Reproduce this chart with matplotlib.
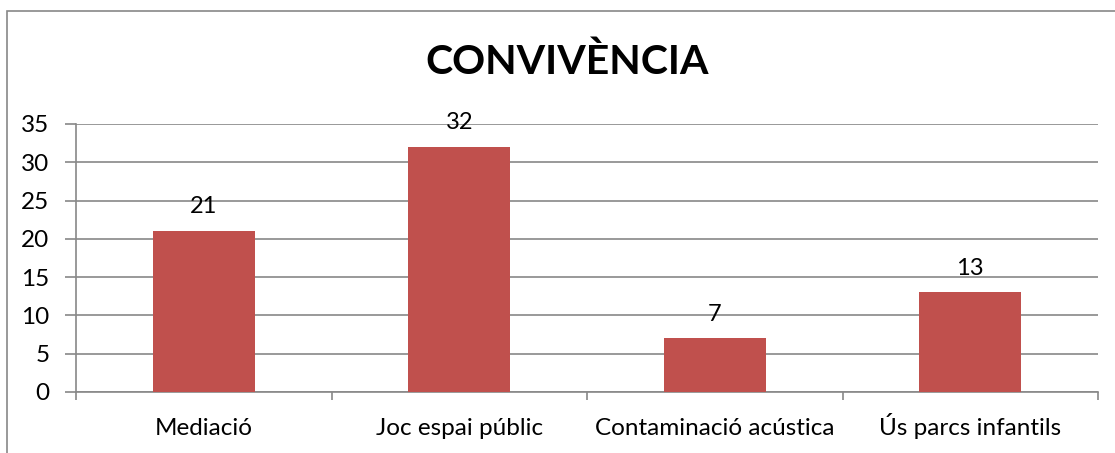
import matplotlib
matplotlib.use("Agg")
import matplotlib.pyplot as plt
from matplotlib.patches import Rectangle
import numpy as np

categories = ["Mediació", "Joc espai públic", "Contaminació acústica", "Ús parcs infantils"]
values = [21, 32, 7, 13]
yticks = [0, 5, 10, 15, 20, 25, 30, 35]
title = "CONVIVÈNCIA"

plt.rcParams['font.family'] = ['Lato', 'DejaVu Sans']

fig = plt.figure(figsize=(11.15, 4.53), dpi=100)
ax = fig.add_axes([76/1115, 1 - 392/453, (1098-76)/1115, (392-124)/453])

x = np.arange(len(categories))
bars = ax.bar(x, values, width=0.4, color="#C0504D", zorder=3)
for xi, v in zip(x, values):
    ax.annotate(str(v), (xi, v), xytext=(0, 10), textcoords="offset points",
                ha="center", va="bottom", fontsize=17, color="#000000")

ax.set_xlim(-0.5, len(categories) - 0.5)
ax.set_ylim(0, 35)
ax.set_yticks(yticks)
ax.tick_params(axis='y', labelsize=17.5, length=8, width=1.2, color="#888888", pad=11)
ax.yaxis.grid(True, color="#888888", linewidth=1.2, zorder=0)
ax.set_xticks(x)
ax.set_xticklabels(categories, fontsize=17.5)
ax.tick_params(axis='x', length=0, pad=31)
for lbl in ax.get_xticklabels():
    lbl.set_va('baseline')
ax.set_xticks(np.arange(-0.5, len(categories), 1.0), minor=True)
ax.tick_params(axis='x', which='minor', length=6, width=1.2, color="#888888")

for s in ["top", "right"]:
    ax.spines[s].set_visible(False)
for s in ["left", "bottom"]:
    ax.spines[s].set_color("#888888")
    ax.spines[s].set_linewidth(1.2)

fig.text(567/1115, 1 - 62/453, title, ha="center", va="center",
         fontsize=29.5, fontweight="bold")

fig.patches.append(Rectangle((7/1115, -0.1), 1.2, 1 - 11/453 + 0.1,
                             transform=fig.transFigure, fill=False,
                             edgecolor="#888888", linewidth=1.2))

fig.savefig("out.png", dpi=100)
